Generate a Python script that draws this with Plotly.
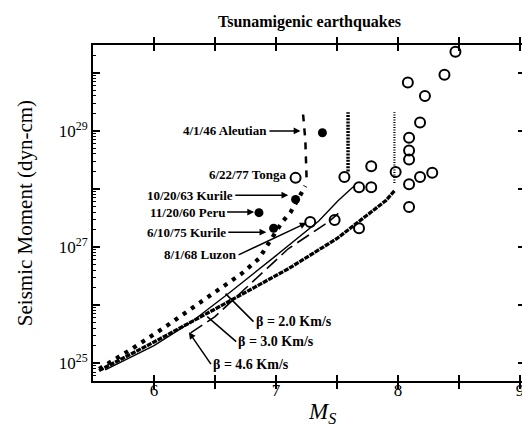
import numpy as np
import plotly.graph_objects as go

FONT = "Liberation Serif"

# ---- data ----
ms_open = [8.47, 8.38, 8.08, 8.22, 8.18, 8.09, 8.09, 8.09, 7.98, 8.28, 8.18, 8.09, 8.09,
           7.78, 7.68, 7.78, 7.68, 7.56, 7.48, 7.28, 7.16]
m0_open = [2.3e30, 9.3e29, 6.8e29, 4.0e29, 1.4e29, 7.6e28, 4.6e28, 3.2e28, 1.95e28, 1.9e28,
           1.6e28, 1.2e28, 4.9e27, 2.45e28, 1.07e28, 1.07e28, 2.1e27, 1.6e28, 2.9e27, 2.7e27, 1.55e28]

ms_filled = [7.38, 7.16, 6.86, 6.98]
m0_filled = [9.3e28, 6.6e27, 3.9e27, 2.1e27]

# beta = 2.0 km/s (dotted, saturating near Ms 7.2)
b20_ms = [5.55, 5.80, 6.07, 6.29, 6.50, 6.72, 6.86, 6.98, 7.05, 7.12, 7.21, 7.24]
b20_m0 = [7.9e24, 1.66e25, 3.9e25, 8.1e25, 1.66e26, 3.5e26, 6.3e26, 1.58e27, 2.7e27, 4.0e27, 8.3e27, 1.12e28]
b20_vert_ms = [7.25, 7.24, 7.22]
b20_vert_m0 = [1.58e28, 6.9e28, 2.1e29]

# beta = 3.0 km/s (thin line, saturating near Ms 7.6)
b30_ms = [5.60, 6.00, 6.30, 6.61, 7.00, 7.35, 7.51, 7.64]
b30_m0 = [7.6e24, 2.0e25, 5.0e25, 1.58e26, 7.1e26, 2.8e27, 6.3e27, 1.12e28]
b30_dash_ms = [6.30, 6.50, 7.10, 7.43, 7.51]
b30_dash_m0 = [3.3e25, 6.3e25, 9.3e26, 2.7e27, 3.8e27]
b30_vert_ms = [7.59, 7.59]
b30_vert_m0 = [2.0e28, 2.1e29]

# beta = 4.6 km/s (heavy line, saturating near Ms 8.0)
b46_ms = [5.55, 6.00, 6.50, 6.78, 7.10, 7.50, 7.90, 7.97]
b46_m0 = [7.4e24, 2.3e25, 8.5e25, 1.78e26, 4.2e26, 1.4e27, 6.3e27, 9.3e27]
b46_vert_ms = [7.97, 7.97]
b46_vert_m0 = [1.26e28, 2.1e29]

event_labels = ["4/1/46 Aleutian", "6/22/77 Tonga", "10/20/63 Kurile",
                "11/20/60 Peru", "6/10/75 Kurile", "8/1/68 Luzon"]
event_ms = [7.20, 7.10, 7.10, 6.82, 6.92, 7.25]
event_m0 = [1.0e29, 1.74e28, 7.8e27, 4.0e27, 1.8e27, 2.6e27]
event_ax = [-31, 0, -53, -27, -38, -68]
event_ay = [0, 0, 0, 0, 0, 32]
event_arrow = [True, False, True, True, True, True]

beta_labels = ["β = 2.0 Km/s", "β = 3.0 Km/s", "β = 4.6 Km/s"]
beta_ms = [6.586, 6.436, 6.286]
beta_m0 = [1.57e26, 6.3e25, 3.4e25]
beta_ax = [28, 29, 22]
beta_ay = [28, 25, 32]
beta_head = [0, 0, 2]

x_tickvals = [5.5, 6, 6.5, 7, 7.5, 8, 8.5, 9]
x_ticktext = [" ", "6", " ", "7", " ", "8", " ", "9"]
y_decades = [25, 26, 27, 28, 29, 30]
y_ticktext = ["10<sup>25</sup>", " ", "10<sup>27</sup>", " ", "10<sup>29</sup>", " "]

# ---- figure ----
fig = go.Figure()

def line(xs, ys, width, dash, color="black"):
    fig.add_trace(go.Scatter(x=xs, y=ys, mode="lines",
                             line=dict(color=color, width=width, dash=dash),
                             hoverinfo="skip", showlegend=False))

line(b46_ms, b46_m0, 3.3, "5px,1px")
line(b46_vert_ms, b46_vert_m0, 2.2, "1px,1.5px")
line(b30_ms, b30_m0, 1.4, "solid")
line(b30_dash_ms, b30_dash_m0, 1.6, "14px,6px")
line(b30_vert_ms, b30_vert_m0, 3.5, "2px,1.2px")
line(b20_ms, b20_m0, 4.2, "4px,6px")
line(b20_vert_ms, b20_vert_m0, 2.5, "7px,7px")

fig.add_trace(go.Scatter(x=ms_open, y=m0_open, mode="markers",
                         marker=dict(symbol="circle-open", size=10, color="black",
                                     line=dict(width=2, color="black")),
                         showlegend=False))
fig.add_trace(go.Scatter(x=ms_filled, y=m0_filled, mode="markers",
                         marker=dict(symbol="circle", size=9, color="black"),
                         showlegend=False))
# empty trace that carries the minor-tick axis
fig.add_trace(go.Scatter(x=[], y=[], yaxis="y2", showlegend=False, hoverinfo="skip"))

ann = []
for lab, x, y, ax, ay, arr in zip(event_labels, event_ms, event_m0, event_ax, event_ay, event_arrow):
    ann.append(dict(x=x, y=float(np.log10(y)), xref="x", yref="y",
                    text="<b>" + lab + "</b>", showarrow=arr, ax=ax, ay=ay,
                    xanchor="right", yanchor="middle",
                    arrowhead=2, arrowsize=0.9, arrowwidth=1.5, arrowcolor="black",
                    font=dict(family=FONT, size=13, color="black")))
for lab, x, y, ax, ay, hd in zip(beta_labels, beta_ms, beta_m0, beta_ax, beta_ay, beta_head):
    ann.append(dict(x=x, y=float(np.log10(y)), xref="x", yref="y",
                    text="<b>" + lab + "</b>", showarrow=True, ax=ax, ay=ay,
                    xanchor="left", yanchor="middle",
                    arrowhead=hd, arrowsize=0.9, arrowwidth=1.5, arrowcolor="black",
                    font=dict(family=FONT, size=14, color="black")))

ann.append(dict(x=0.5, y=1.068, xref="paper", yref="paper", showarrow=False,
                text="<b>Tsunamigenic earthquakes</b>", xanchor="center", yanchor="middle",
                font=dict(family=FONT, size=16, color="black")))
ann.append(dict(x=-0.157, y=0.50, xref="paper", yref="paper", showarrow=False,
                text="Seismic Moment (dyn-cm)", textangle=-90, xanchor="center", yanchor="middle",
                font=dict(family=FONT, size=21, color="black")))
ann.append(dict(x=0.53, y=-0.095, xref="paper", yref="paper", showarrow=False,
                text="<i>M<sub>S</sub></i>", xanchor="center", yanchor="middle",
                font=dict(family=FONT, size=23, color="black")))

minor_vals = [m * 10.0 ** d for d in range(24, 31) for m in range(2, 10)]

# page body adds an 8px offset; figure is sized so the plot lands where the reference has it
fig.update_layout(
    width=522, height=424,
    margin=dict(l=85, r=3, t=37, b=51),
    paper_bgcolor="white", plot_bgcolor="white",
    showlegend=False,
    annotations=ann,
    font=dict(family=FONT, color="black"),
    xaxis=dict(range=[5.5, 9.04], tickmode="array", tickvals=x_tickvals, ticktext=x_ticktext,
               ticks="inside", ticklen=6, tickwidth=1.5, tickcolor="black",
               showline=True, linewidth=2, linecolor="black", mirror="allticks",
               showgrid=False, zeroline=False, ticklabelstandoff=-7,
               tickfont=dict(family=FONT, size=17, color="black")),
    yaxis=dict(type="log", range=[24.69, 30.48], tickmode="array",
               tickvals=[10.0 ** d for d in y_decades], ticktext=y_ticktext,
               ticks="inside", ticklen=7, tickwidth=1.5, tickcolor="black",
               showline=True, linewidth=2, linecolor="black", mirror="allticks",
               showgrid=False, zeroline=False,
               tickfont=dict(family=FONT, size=17, color="black")),
    yaxis2=dict(type="log", range=[24.69, 30.48], overlaying="y", side="left",
                tickmode="array", tickvals=minor_vals, showticklabels=False,
                ticks="inside", ticklen=3, tickwidth=1, tickcolor="black",
                showline=False, mirror="allticks", showgrid=False, zeroline=False),
)

fig.write_html("out.html")
